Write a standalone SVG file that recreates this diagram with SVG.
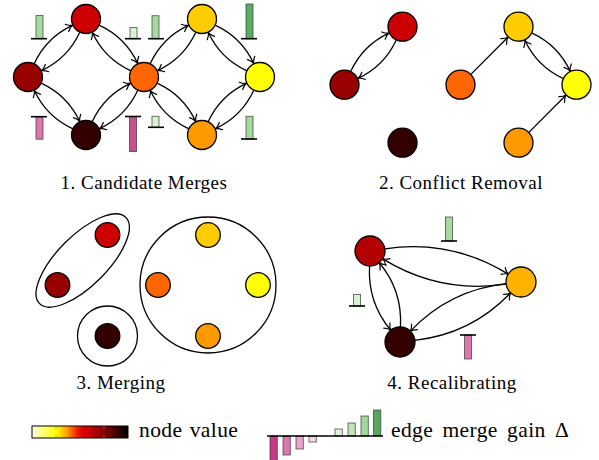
<svg xmlns="http://www.w3.org/2000/svg" width="599" height="460" viewBox="0 0 599 460">
<style>
.nd{stroke:#000;stroke-width:1.3}
.ed{fill:none;stroke:#000;stroke-width:1.3;marker-end:url(#arr)}
.bar{stroke:#333;stroke-opacity:0.75;stroke-width:0.9}
.base{stroke:#000;stroke-width:1.6}
.grp{fill:none;stroke:#000;stroke-width:1.3}
.cap{font-family:"Liberation Serif","Times New Roman","DejaVu Serif",serif;font-size:19px;fill:#000;letter-spacing:0.5px}
.leg{font-family:"Liberation Serif","Times New Roman","DejaVu Serif",serif;font-size:21.5px;fill:#000;letter-spacing:0.4px}
.gl{fill:#a6dba0}.gll{fill:#d9f0d3}.gd{fill:#5aae61}.pk{fill:#de77ae}.pd{fill:#c9508e}
</style>
<defs>
<marker id="arr" markerUnits="userSpaceOnUse" viewBox="-7 -5 8 10" markerWidth="8" markerHeight="10" refX="0" refY="0" orient="auto">
<path d="M-6,-4 C-3.8,-1.7 -1.4,-0.4 0,0 C-1.4,0.4 -3.8,1.7 -6,4" fill="none" stroke="#000" stroke-width="1.2" stroke-linecap="round"/>
</marker>
<linearGradient id="hot" x1="0" y1="0" x2="1" y2="0">
<stop offset="0" stop-color="#ffffe6"/>
<stop offset="0.25" stop-color="#ffff00"/>
<stop offset="0.37" stop-color="#ff9900"/>
<stop offset="0.5" stop-color="#ee0000"/>
<stop offset="0.75" stop-color="#880000"/>
<stop offset="1" stop-color="#000000"/>
</linearGradient>
</defs>

<!-- Panel 1 connectors -->
<g id="connectors-1">
<path class="ed" d="M34.34,63.4 Q46.44,37.44 72.4,25.34"/>
<path class="ed" d="M79.66,32.6 Q67.56,58.56 41.6,70.66"/>
<path class="ed" d="M41.6,83.34 Q67.56,95.44 79.66,121.4"/>
<path class="ed" d="M72.4,128.66 Q46.44,116.56 34.34,90.6"/>
<path class="ed" d="M99.6,25.34 Q125.56,37.44 137.66,63.4"/>
<path class="ed" d="M130.4,70.66 Q104.44,58.56 92.34,32.6"/>
<path class="ed" d="M92.34,121.4 Q104.44,95.44 130.4,83.34"/>
<path class="ed" d="M137.66,90.6 Q125.56,116.56 99.6,128.66"/>
<path class="ed" d="M150.34,63.4 Q162.44,37.44 188.4,25.34"/>
<path class="ed" d="M195.66,32.6 Q183.56,58.56 157.6,70.66"/>
<path class="ed" d="M157.6,83.34 Q183.56,95.44 195.66,121.4"/>
<path class="ed" d="M188.4,128.66 Q162.44,116.56 150.34,90.6"/>
<path class="ed" d="M215.6,25.34 Q241.56,37.44 253.66,63.4"/>
<path class="ed" d="M246.4,70.66 Q220.44,58.56 208.34,32.6"/>
<path class="ed" d="M208.34,121.4 Q220.44,95.44 246.4,83.34"/>
<path class="ed" d="M253.66,90.6 Q241.56,116.56 215.6,128.66"/>
</g>

<!-- Panel 1 nodes -->
<g id="p1-dr"><circle class="nd" cx="28" cy="77" r="14.5" fill="#990000"/></g>
<g id="p1-r"><circle class="nd" cx="86" cy="19" r="14.5" fill="#cc0000"/></g>
<g id="p1-br"><circle class="nd" cx="86" cy="135" r="14.5" fill="#330000"/></g>
<g id="p1-o"><circle class="nd" cx="144" cy="77" r="14.5" fill="#ff6600"/></g>
<g id="p1-yo"><circle class="nd" cx="202" cy="19" r="14.5" fill="#ffcc00"/></g>
<g id="p1-y"><circle class="nd" cx="260" cy="77" r="14.5" fill="#ffff00"/></g>
<g id="p1-ob"><circle class="nd" cx="202" cy="135" r="14.5" fill="#ff9900"/></g>

<!-- Panel 1 gain bars -->
<g id="p1-bars">
<rect class="bar gl" x="36" y="15.5" width="7" height="23.2"/><line class="base" x1="31" y1="38.7" x2="47" y2="38.7"/>
<rect class="bar gll" x="130" y="27.5" width="7" height="11.2"/><line class="base" x1="125" y1="38.7" x2="141" y2="38.7"/>
<rect class="bar gl" x="152" y="15.7" width="7" height="23"/><line class="base" x1="148" y1="38.7" x2="164" y2="38.7"/>
<rect class="bar gd" x="246" y="4" width="7" height="34.7"/><line class="base" x1="241" y1="38.7" x2="257" y2="38.7"/>
<rect class="bar pk" x="36" y="116.7" width="7" height="22.5"/><line class="base" x1="31" y1="116.7" x2="47" y2="116.7"/>
<rect class="bar pd" x="129.5" y="116.5" width="7" height="35"/><line class="base" x1="125" y1="116.5" x2="141" y2="116.5"/>
<rect class="bar gll" x="152" y="116.3" width="7" height="11"/><line class="base" x1="148" y1="127.3" x2="164" y2="127.3"/>
<rect class="bar gl" x="246" y="116.3" width="7" height="22.7"/><line class="base" x1="241" y1="139" x2="257" y2="139"/>
</g>

<!-- Panel 2 connectors -->
<g id="connectors-2" transform="translate(316.5,7.7)">
<path class="ed" d="M34.34,63.4 Q46.44,37.44 72.4,25.34"/>
<path class="ed" d="M79.66,32.6 Q67.56,58.56 41.6,70.66"/>
<path class="ed" d="M215.6,25.34 Q241.56,37.44 253.66,63.4"/>
<path class="ed" d="M246.4,70.66 Q220.44,58.56 208.34,32.6"/>
<path class="ed" d="M154.6,66.4 L191.4,29.6"/>
<path class="ed" d="M212.6,124.4 L249.4,87.6"/>
</g>

<!-- Panel 2 nodes -->
<g id="p2-dr"><circle class="nd" cx="344.5" cy="84.7" r="14.5" fill="#990000"/></g>
<g id="p2-r"><circle class="nd" cx="402.5" cy="26.7" r="14.5" fill="#cc0000"/></g>
<g id="p2-br"><circle class="nd" cx="402.5" cy="142.7" r="14.5" fill="#330000"/></g>
<g id="p2-o"><circle class="nd" cx="460.5" cy="84.7" r="14.5" fill="#ff6600"/></g>
<g id="p2-yo"><circle class="nd" cx="518.5" cy="26.7" r="14.5" fill="#ffcc00"/></g>
<g id="p2-y"><circle class="nd" cx="576.5" cy="84.7" r="14.5" fill="#ffff00"/></g>
<g id="p2-ob"><circle class="nd" cx="518.5" cy="142.7" r="14.5" fill="#ff9900"/></g>

<!-- Panel 3 groups -->
<g id="p3-group-a"><ellipse class="grp" cx="82.7" cy="260.5" rx="61" ry="25" transform="rotate(-45 82.7 260.5)"/></g>
<g id="p3-group-b"><circle class="grp" cx="107.5" cy="336" r="30"/></g>
<g id="p3-group-c"><circle class="grp" cx="208" cy="285" r="68"/></g>
<g id="p3-r"><circle class="nd" cx="107.5" cy="235" r="12.3" fill="#cc0000"/></g>
<g id="p3-dr"><circle class="nd" cx="57.5" cy="285" r="12.3" fill="#990000"/></g>
<g id="p3-br"><circle class="nd" cx="107.5" cy="336" r="12.3" fill="#330000"/></g>
<g id="p3-yo"><circle class="nd" cx="208" cy="235" r="12.3" fill="#ffcc00"/></g>
<g id="p3-o"><circle class="nd" cx="158" cy="285" r="12.3" fill="#ff6600"/></g>
<g id="p3-y"><circle class="nd" cx="258" cy="285" r="12.3" fill="#ffff00"/></g>
<g id="p3-ob"><circle class="nd" cx="208" cy="336" r="12.3" fill="#ff9900"/></g>

<!-- Panel 4 connectors -->
<g id="connectors-4">
<path class="ed" d="M384.84,248.81 Q451.14,239.02 508.22,274.13"/>
<path class="ed" d="M506.16,284.19 Q439.86,293.98 382.78,258.87"/>
<path class="ed" d="M369.54,266 Q367.5,302.5 390.72,330.22"/>
<path class="ed" d="M400.46,327 Q402.5,290.5 379.28,262.78"/>
<path class="ed" d="M414.91,340.34 Q471.42,334.02 510.65,292.86"/>
<path class="ed" d="M506.09,283.66 Q449.58,289.98 410.35,331.14"/>
</g>

<!-- Panel 4 nodes -->
<g id="p4-r"><circle class="nd" cx="370" cy="251" r="15" fill="#b30000"/></g>
<g id="p4-o"><circle class="nd" cx="521" cy="282" r="15" fill="#ffb300"/></g>
<g id="p4-br"><circle class="nd" cx="400" cy="342" r="15" fill="#330000"/></g>

<!-- Panel 4 gain bars -->
<g id="p4-bars">
<rect class="bar gl" x="445.5" y="217" width="7" height="24"/><line class="base" x1="441" y1="241" x2="457" y2="241"/>
<rect class="bar gll" x="353.5" y="294.5" width="7" height="11.5"/><line class="base" x1="349" y1="306" x2="365" y2="306"/>
<rect class="bar pk" x="464.5" y="335" width="7" height="24"/><line class="base" x1="460" y1="335" x2="476" y2="335"/>
</g>

<!-- Captions -->
<text class="cap" font-family="Liberation Serif, serif" x="144" y="189" text-anchor="middle">1. Candidate Merges</text>
<text class="cap" font-family="Liberation Serif, serif" x="461" y="189" text-anchor="middle">2. Conflict Removal</text>
<text class="cap" font-family="Liberation Serif, serif" x="121" y="389" text-anchor="middle">3. Merging</text>
<text class="cap" font-family="Liberation Serif, serif" x="452" y="389" text-anchor="middle">4. Recalibrating</text>

<!-- Legend: node value -->
<g id="legend-node-value">
<rect x="32" y="426" width="96" height="12" fill="url(#hot)" stroke="#000" stroke-width="1"/>
<g stroke="#777" stroke-width="0.8">
<line x1="56" y1="426" x2="56" y2="428.5"/><line x1="56" y1="435.5" x2="56" y2="438"/>
<line x1="80" y1="426" x2="80" y2="428.5"/><line x1="80" y1="435.5" x2="80" y2="438"/>
<line x1="104" y1="426" x2="104" y2="428.5"/><line x1="104" y1="435.5" x2="104" y2="438"/>
</g>
<text class="leg" font-family="Liberation Serif, serif" x="139" y="437" word-spacing="1.5">node value</text>
</g>

<!-- Legend: edge merge gain -->
<g id="legend-gain">
<rect class="bar" x="270" y="436" width="7.3" height="26" fill="#c83a89"/>
<rect class="bar" x="283" y="436" width="7.3" height="19" fill="#de77ae"/>
<rect class="bar" x="296" y="436" width="7.3" height="13" fill="#eaa5cc"/>
<rect class="bar" x="309" y="436" width="7.3" height="6" fill="#f8d6e8"/>
<rect class="bar" x="335" y="429" width="7.3" height="7" fill="#dff2d8"/>
<rect class="bar" x="348" y="423" width="7.3" height="13" fill="#bfe5b8"/>
<rect class="bar" x="361" y="416" width="7.3" height="20" fill="#a2d99b"/>
<rect class="bar" x="373.5" y="410" width="7.3" height="26" fill="#5aa560"/>
<line class="base" x1="267" y1="436" x2="383" y2="436"/>
<text class="leg" font-family="Liberation Serif, serif" x="391" y="437" word-spacing="3.5">edge merge gain Δ</text>
</g>
</svg>
